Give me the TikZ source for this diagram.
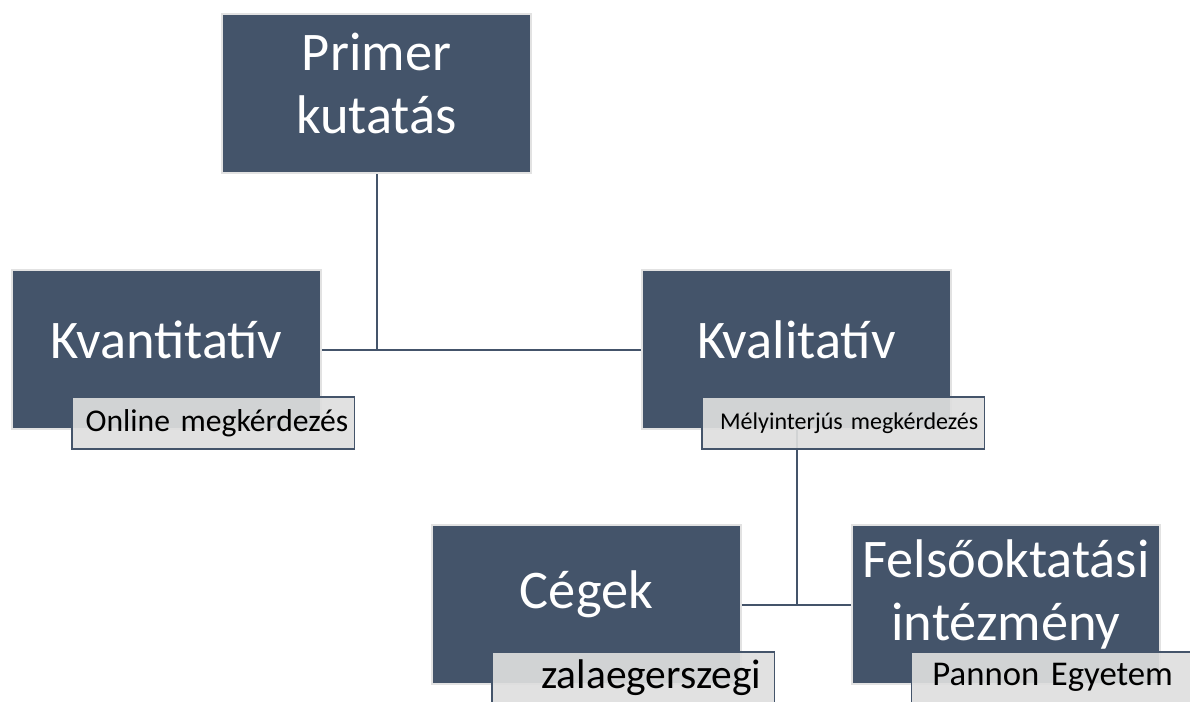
\documentclass[tikz,border=0pt]{standalone}
\usepackage{fontspec}
\setmainfont{Carlito}
\usepackage{tikz}
\usetikzlibrary{positioning, calc}

\definecolor{slate}{HTML}{44546A}
\definecolor{edgegray}{HTML}{E2E2E2}
\definecolor{taggray}{HTML}{DEDEDE}

\begin{document}
\begin{tikzpicture}[
    x=0.025cm, y=-0.025cm,
    unit/.style={rectangle, minimum width=7.72cm, minimum height=3.98cm, draw=edgegray, line width=0.05cm, fill=slate, inner sep=0pt},
    unittext/.style={text=white, font=\fontsize{38.7}{44.5}\selectfont, align=center, yshift=0.25cm},
    tag/.style={rectangle, anchor=north east, minimum width=7.05cm, minimum height=1.3cm, draw=slate, line width=0.035cm, fill=taggray, fill opacity=0.92, text opacity=1, inner sep=0.1cm, text width=6.75cm, align=right},
    link/.style={draw=slate, line width=0.05cm}
]
\useasboundingbox (0,0) rectangle (1190,702);

% the five boxes
\node (primer) [unit, label={[unittext]center:Primer\\kutatás}] at (376.5,93.5) {};
\node (kvant) [unit, label={[unittext]center:Kvantitatív}] at (166.5,349.5) {};
\node (kvali) [unit, label={[unittext]center:Kvalitatív}] at (796.5,349.5) {};
\node (cegek) [unit, label={[unittext]center:Cégek}] at (586.5,604.5) {};
\node (felso) [unit, label={[unittext]center:Felsőoktatási\\intézmény}] at (1006,604.5) {};

% connectors
\draw [link] (primer.south) -- (primer.south |- kvant.east);
\draw [link] (kvant.east) -- (kvali.west);
\draw [link] (kvali.south) -- (kvali.south |- cegek.east);
\draw [link] (cegek.east) -- (felso.west);

% tags on the lower right corners
\node (kvanttag) [tag, font=\fontsize{22.5}{26}\selectfont] at ([shift={(33,-34)}]kvant.south east) {Online megkérdezés};
\node (kvalitag) [tag, font=\fontsize{17.1}{20}\selectfont] at ([shift={(33,-34)}]kvali.south east) {Mélyinterjús megkérdezés};
\node (cegektag) [tag, text width=6.4cm, font=\fontsize{29.5}{33}\selectfont] at ([shift={(33,-34)}]cegek.south east) {zalaegerszegi};
\node (felsotag) [tag, align=center, font=\fontsize{24.7}{28}\selectfont] at ([shift={(33,-34)}]felso.south east) {Pannon Egyetem};

\end{tikzpicture}
\end{document}
